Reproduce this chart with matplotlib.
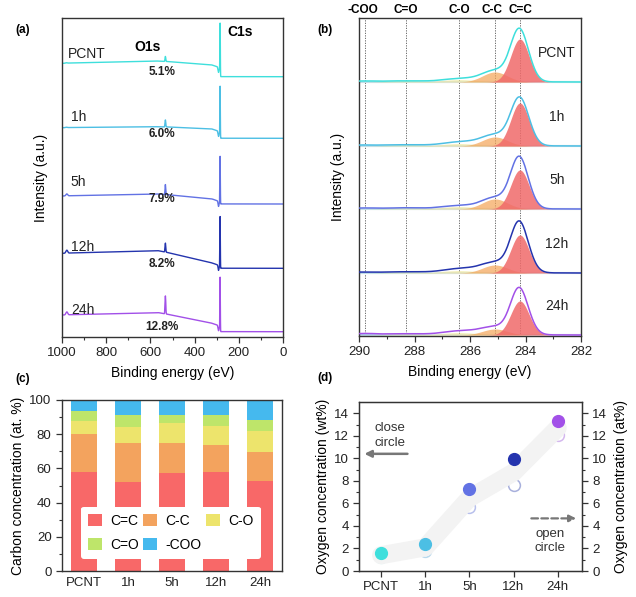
import numpy as np
import matplotlib
matplotlib.use('Agg')
import matplotlib.pyplot as plt
from matplotlib.patches import Patch

plt.rcParams['font.family'] = ['Liberation Sans', 'DejaVu Sans']
plt.rcParams['axes.edgecolor'] = '#333333'
plt.rcParams['xtick.color'] = '#333333'
plt.rcParams['ytick.color'] = '#333333'
plt.rcParams['xtick.labelcolor'] = '#222222'
plt.rcParams['ytick.labelcolor'] = '#222222'

# ---------------- data ----------------
samples = ['PCNT', '1h', '5h', '12h', '24h']
colors = ['#3EDFDC', '#4CBFE4', '#6272E4', '#2434AE', '#A250E8']
open_colors = ['#B8EEF0', '#B8D8EC', '#B8C0EC', '#A8B0DC', '#D4B8EE']
o_percent = ['5.1%', '6.0%', '7.9%', '8.2%', '12.8%']

# (a) survey spectra (arbitrary intensity units)
survey_offset = [260.3, 198.7, 133.0, 68.7, 5.3]
survey_bg_1000 = [13.4, 10.6, 8.0, 15.0, 16.7]
survey_bg_560 = [15.7, 11.6, 10.0, 17.6, 19.0]
survey_bg_320 = [11.7, 9.3, 5.0, 5.3, 8.4]
survey_c1s = [50.7, 50.0, 47.0, 51.0, 52.7]
survey_o1s = [5.0, 7.0, 10.0, 9.0, 18.0]
survey_auger = [0.5, 0.5, 2.0, 3.0, 3.0]
c1s_pos, o1s_pos, auger_pos = 284.5, 532.0, 978.0

# (b) C1s high-resolution fitting components
comp_names = ['C=C', 'C-C', 'C-O', 'C=O', '-COO']
comp_pos = [284.2, 285.1, 286.4, 288.3, 289.8]
comp_sigma = [0.33, 0.45, 0.6, 0.6, 0.5]
hr_offset = [254, 190, 127, 63, 1]
h_c_dbl_c = [43, 43, 39, 38, 34]
h_c_c = [10, 9, 10, 8, 6]
h_c_o = [2.5, 2.5, 2.5, 2.5, 2.5]
h_c_dbl_o = [1.2, 1.2, 1.2, 1.2, 1.2]
h_coo = [1.0, 1.0, 1.0, 1.0, 1.5]
env_extra = [9, 4, 12, 12, 12]
env_tail = [1.5, 2.5, 1.5, 3.0, 2.5]
comp_colors = ['#F06A6A', '#F4A457', '#EFE37A', '#C2E57A', '#6EC3EE']
comp_alpha = [0.85, 0.7, 0.45, 0.45, 0.45]

# (c) carbon concentration (at. %)
bar_c_dbl_c = [57.8, 51.9, 57.2, 57.8, 52.8]
bar_c_c = [22.4, 22.8, 17.5, 15.9, 16.6]
bar_c_o = [7.6, 9.6, 11.7, 11.0, 12.5]
bar_c_dbl_o = [5.5, 6.9, 4.8, 6.5, 6.3]
bar_coo = [6.7, 8.8, 8.8, 8.8, 11.8]
bar_colors = ['#F86868', '#F3A35E', '#EDE46C', '#BEE56A', '#45B9EE']

# (d) oxygen concentration
oxy_wt = [1.6, 2.4, 7.3, 9.9, 13.3]
oxy_at = [1.2, 1.8, 5.65, 7.6, 12.1]


def gauss(x, mu, sig, h):
    return h * np.exp(-0.5 * ((x - mu) / sig) ** 2)


fig = plt.figure(figsize=(6.36, 5.97), dpi=100)
W, H = 636, 597


def add_ax(l, r, t, b):
    return fig.add_axes([l / W, 1 - b / H, (r - l) / W, (b - t) / H])


axa = add_ax(62, 283, 18, 337)
axb = add_ax(359, 581, 18, 336)
axc = add_ax(62, 282, 400, 571)
axd = add_ax(359, 582, 402, 571)

for ax in (axa, axb, axc, axd):
    for s in ax.spines.values():
        s.set_linewidth(1.0)
    ax.tick_params(which='major', direction='out', length=4, width=0.9, labelsize=9.5)
    ax.tick_params(which='minor', direction='out', length=2, width=0.8)

# ---------------- (a) ----------------
E = np.linspace(0, 1000, 8001)
for i, s in enumerate(samples):
    knE = [0, 283.5, 286.5, 295, 320, 560, 1000]
    knL = [0, 0, survey_bg_320[i] - 3, survey_bg_320[i] - 2, survey_bg_320[i],
           survey_bg_560[i], survey_bg_1000[i]]
    y = np.interp(E, knE, knL)
    y -= gauss(E, 291.5, 2.0, 5.0)
    y += gauss(E, c1s_pos, 0.9, survey_c1s[i])
    y += gauss(E, o1s_pos, 1.6, survey_o1s[i])
    y += gauss(E, auger_pos, 4.0, survey_auger[i])
    axa.plot(E, y + survey_offset[i], color=colors[i], lw=1.0)
    axa.text(960 if i > 0 else 973, survey_offset[i] + (22.7 if i == 0 else 21.5), s,
             fontsize=10, ha='left', va='center', color='#222222')
    axa.text(548, survey_offset[i] + 4.5, o_percent[i], fontsize=8.5,
             fontweight='bold', ha='center', va='center', color='#222222')

axa.text(615, 290, 'O1s', fontsize=10, fontweight='bold', ha='center', va='center')
axa.text(195, 305, 'C1s', fontsize=10, fontweight='bold', ha='center', va='center')
axa.set_xlim(1000, 0)
axa.set_ylim(0, 319)
axa.set_xticks([1000, 800, 600, 400, 200, 0])
axa.set_xticks(np.arange(0, 1001, 100), minor=True)
axa.set_yticks([])
axa.set_xlabel('Binding energy (eV)', fontsize=10, labelpad=5)
axa.set_ylabel('Intensity (a.u.)', fontsize=10, labelpad=10)

# ---------------- (b) ----------------
Eb = np.linspace(282, 290, 1601)
heights = [h_c_dbl_c, h_c_c, h_c_o, h_c_dbl_o, h_coo]
for p in comp_pos:
    axb.axvline(p, color='#555555', lw=0.6, ls=(0, (1.5, 1.5)), zorder=1)
for i, s in enumerate(samples):
    off = hr_offset[i]
    axb.axhline(off, color='#DCE6EA', lw=1.6, zorder=1)
    total = np.zeros_like(Eb)
    for k in range(4, -1, -1):
        g = gauss(Eb, comp_pos[k], comp_sigma[k], heights[k][i])
        total += g
        axb.fill_between(Eb, off, off + g, color=comp_colors[k],
                         alpha=comp_alpha[k], lw=0, zorder=2 + (4 - k))
    env = total + gauss(Eb, 284.27, 0.28, env_extra[i]) + gauss(Eb, 285.6, 1.0, env_tail[i])
    axb.plot(Eb, off + env, color=colors[i], lw=1.1, zorder=8)
    axb.text(282.87, off + 29, s, fontsize=10,
             ha='center', va='center', color='#222222')
label_shift = {'-COO': 0.05, 'C=O': 0.0, 'C-O': 0.0, 'C-C': 0.12, 'C=C': -0.03}
for n, p in zip(comp_names, comp_pos):
    axb.text(p + label_shift[n], 326, n, fontsize=8.5, fontweight='bold', ha='center',
             va='center', clip_on=False)
axb.set_xlim(290, 282)
axb.set_ylim(0, 318)
axb.set_xticks([290, 288, 286, 284, 282])
axb.set_xticks(np.arange(282, 290.1, 1), minor=True)
axb.set_yticks([])
axb.set_xlabel('Binding energy (eV)', fontsize=10, labelpad=5)
axb.set_ylabel('Intensity (a.u.)', fontsize=10, labelpad=10)

# ---------------- (c) ----------------
xc = np.arange(len(samples))
bottom = np.zeros(len(samples))
bar_series = [bar_c_dbl_c, bar_c_c, bar_c_o, bar_c_dbl_o, bar_coo]
for k, vals in enumerate(bar_series):
    axc.bar(xc, vals, width=0.6, bottom=bottom, color=bar_colors[k], lw=0)
    bottom += np.array(vals)
axc.set_xlim(-0.5, 4.5)
axc.set_ylim(0, 100)
axc.set_xticks(xc)
axc.set_xticklabels(samples)
axc.tick_params(axis='x', length=0, pad=4)
axc.set_yticks(np.arange(0, 101, 20))
axc.set_yticks(np.arange(0, 101, 10), minor=True)
axc.set_ylabel('Carbon concentration (at. %)', fontsize=10, labelpad=3)
handles = [Patch(facecolor=c, edgecolor='none') for c in bar_colors]
order = [0, 3, 1, 4, 2]  # row-wise filling: C=C, C-C, C-O / C=O, -COO
leg = axc.legend([handles[j] for j in order], [comp_names[j] for j in order],
                 ncol=3, loc='lower left',
                 bbox_to_anchor=(0.055, 0.03, 0.88, 0.315), mode='expand',
                 frameon=True, fancybox=True, fontsize=10, handlelength=1.0,
                 handleheight=1.0, handletextpad=0.6, labelspacing=0.75,
                 borderpad=0.5, columnspacing=1.0)
leg.get_frame().set_edgecolor('none')
leg.get_frame().set_facecolor('white')
leg.get_frame().set_alpha(1.0)

# ---------------- (d) ----------------
xd = np.arange(len(samples))
band = (np.array(oxy_wt) + np.array(oxy_at)) / 2
axd.plot(xd, band, color='#F3F3F3', lw=13, solid_capstyle='round',
         solid_joinstyle='round', zorder=1)
axd2 = axd.twinx()
axd2.set_zorder(axd.get_zorder() - 1)
axd.patch.set_visible(False)
for i in range(len(samples)):
    axd2.plot(xd[i], oxy_at[i], 'o', ms=8.5, mfc='white', mec=open_colors[i], mew=1.1)
    axd.plot(xd[i], oxy_wt[i], 'o', ms=8.5, color=colors[i], mec=colors[i], zorder=5)
for a in (axd, axd2):
    a.set_ylim(0, 15)
    a.set_yticks(np.arange(0, 15, 2))
    a.set_yticks(np.arange(0, 15, 1), minor=True)
    a.tick_params(which='major', direction='out', length=4, width=0.9, labelsize=9.5)
    a.tick_params(which='minor', direction='out', length=2, width=0.8)
axd.set_xlim(-0.5, 4.55)
axd.set_xticks(xd)
axd.set_xticklabels(samples)
axd.set_ylabel('Oxygen concentration (wt%)', fontsize=10, labelpad=3)
axd2.set_ylabel('Oxygen concentration (at%)', fontsize=10, labelpad=5)
axd.text(0.2, 12.0, 'close\ncircle', fontsize=9.5, ha='center', va='center',
         linespacing=1.3, color='#333333')
axd.annotate('', xy=(-0.44, 10.4), xytext=(0.66, 10.4),
             arrowprops=dict(arrowstyle='-|>', color='#777777', lw=1.8,
                             mutation_scale=10))
axd.text(3.82, 2.65, 'open\ncircle', fontsize=9.5, ha='center', va='center',
         linespacing=1.3, color='#333333')
axd.annotate('', xy=(4.48, 4.67), xytext=(3.34, 4.67),
             arrowprops=dict(arrowstyle='-|>', color='#777777', lw=1.6,
                             ls=(0, (3, 1.5)), mutation_scale=10))

# panel labels
for lab, px, py in [('(a)', 23, 30), ('(b)', 325, 30), ('(c)', 23, 379), ('(d)', 325, 378)]:
    fig.text(px / W, 1 - py / H, lab, fontsize=8.5, fontweight='bold',
             ha='center', va='center')

fig.savefig('out.png', dpi=100)
